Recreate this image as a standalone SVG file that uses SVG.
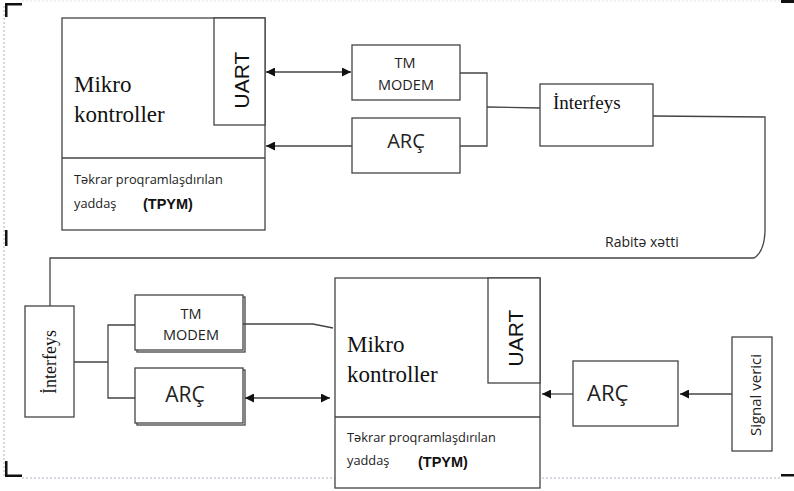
<svg xmlns="http://www.w3.org/2000/svg" width="794" height="491" viewBox="0 0 794 491">
<defs>
<marker id="ah" viewBox="0 0 10 10" refX="10" refY="5" markerWidth="9" markerHeight="9" markerUnits="userSpaceOnUse" orient="auto-start-reverse">
<path d="M0,0 L10,5 L0,10 z" fill="#111"/>
</marker>
<style>
.box{fill:#fff;stroke:#444;stroke-width:1.3}
.ln{fill:none;stroke:#444;stroke-width:1.3}
.serif{font-family:"Liberation Serif","Times New Roman",serif;fill:#111}
.sans{font-family:"Open Sans","Liberation Sans",sans-serif;fill:#222}
.arial{font-family:"Liberation Sans",Arial,sans-serif;fill:#111}
.frm{fill:#111}
.dot{stroke:#aab4c4;stroke-width:1;stroke-dasharray:2,2;fill:none}
</style>
</defs>
<rect width="794" height="491" fill="#fff"/>
<!-- frame -->
<g id="frame">
<line class="dot" x1="4" y1="6" x2="4" y2="478"/>
<line class="dot" x1="22" y1="478" x2="781" y2="478"/>
<line class="dot" x1="22" y1="1" x2="781" y2="1" style="stroke:#dde2ea"/>
<rect class="frm" x="5" y="3" width="17" height="2.5"/>
<rect class="frm" x="5" y="3" width="2.5" height="14"/>
<rect class="frm" x="781" y="0" width="13" height="3"/>
<rect class="frm" x="5" y="230" width="2.5" height="16"/>
<rect class="frm" x="5" y="461" width="2.5" height="16"/>
<rect class="frm" x="5" y="474.5" width="17" height="2.5"/>
<rect class="frm" x="394" y="473" width="6" height="2"/>
<rect class="frm" x="781" y="474" width="13" height="2.5"/>
</g>
<!-- top microcontroller -->
<g id="mc1">
<rect class="box" x="62" y="18" width="203" height="212"/>
<line class="ln" x1="62" y1="158" x2="265" y2="158"/>
<rect class="box" x="214" y="18" width="51" height="107"/>
<text class="arial" font-size="21" transform="translate(249,80) rotate(-90)" text-anchor="middle">UART</text>
<text class="serif" font-size="23" x="74" y="92">Mikro</text>
<text class="serif" font-size="23" x="74" y="122">kontroller</text>
<text class="sans" font-size="12.8" x="74" y="184">Təkrar proqramlaşdırılan</text>
<text class="sans" font-size="12.8" x="74" y="208">yaddaş</text>
<text class="arial" font-size="14.5" font-weight="bold" x="143" y="209">(TPYM)</text>
</g>
<g id="modem1">
<rect class="box" x="352" y="45" width="108" height="55"/>
<text class="sans" font-size="14.5" x="405" y="68" text-anchor="middle">TM</text>
<text class="sans" font-size="14.5" x="406" y="90" text-anchor="middle">MODEM</text>
</g>
<g id="arc1">
<rect class="box" x="352" y="118" width="108" height="55"/>
<text class="sans" font-size="20" x="406" y="148" text-anchor="middle">ARÇ</text>
</g>
<g id="interfeys1">
<rect class="box" x="540" y="84" width="113" height="62"/>
<text class="serif" font-size="19" x="553" y="109">İnterfeys</text>
</g>
<!-- bottom -->
<g id="interfeys2">
<rect class="box" x="25" y="306" width="49" height="111"/>
<text class="serif" font-size="18" transform="translate(56,362) rotate(-90)" text-anchor="middle">İnterfeys</text>
</g>
<g id="modem2">
<rect class="box" x="137" y="297" width="108" height="55"/>
<rect class="box" x="135" y="295" width="108" height="55"/>
<text class="sans" font-size="14.5" x="191" y="319" text-anchor="middle">TM</text>
<text class="sans" font-size="14.5" x="191" y="340" text-anchor="middle">MODEM</text>
</g>
<g id="arc2">
<rect class="box" x="137" y="370" width="108" height="55"/>
<rect class="box" x="135" y="368" width="108" height="55"/>
<text class="sans" font-size="21" x="185" y="402" text-anchor="middle">ARÇ</text>
</g>
<g id="mc2">
<rect class="box" x="335" y="278" width="205" height="210"/>
<line class="ln" x1="335" y1="417" x2="540" y2="417"/>
<rect class="box" x="488" y="278" width="52" height="105"/>
<text class="arial" font-size="21" transform="translate(523,338) rotate(-90)" text-anchor="middle">UART</text>
<text class="serif" font-size="23" x="347" y="352">Mikro</text>
<text class="serif" font-size="23" x="347" y="382">kontroller</text>
<text class="sans" font-size="12.8" x="347" y="442">Təkrar proqramlaşdırılan</text>
<text class="sans" font-size="12.8" x="347" y="465">yaddaş</text>
<text class="arial" font-size="14.5" font-weight="bold" x="418" y="467">(TPYM)</text>
</g>
<g id="arc3">
<rect class="box" x="573" y="361" width="105" height="65"/>
<text class="sans" font-size="22" x="587" y="401">ARÇ</text>
</g>
<g id="signal">
<rect class="box" x="732" y="337" width="40" height="114"/>
<text class="sans" font-size="15" transform="translate(761,395) rotate(-90)" text-anchor="middle">Signal verici</text>
</g>
<text class="sans" font-size="14" x="605" y="247">Rabitə xətti</text>
<!-- connectors -->
<g id="connectors">
<line class="ln" x1="266" y1="72" x2="351" y2="72" marker-start="url(#ah)" marker-end="url(#ah)"/>
<line class="ln" x1="352" y1="146" x2="266" y2="146" marker-end="url(#ah)"/>
<polyline class="ln" points="460,73 487,73 487,146 460,146"/>
<line class="ln" x1="487" y1="107" x2="540" y2="108"/>
<path class="ln" d="M653,116 L765,117 L765,232 Q764,252 754,258 L50,258 L50,306"/>
<line class="ln" x1="74" y1="362" x2="108" y2="362"/>
<polyline class="ln" points="135,325 108,325 108,398 135,398"/>
<line class="ln" x1="245" y1="398" x2="330" y2="398" marker-start="url(#ah)" marker-end="url(#ah)"/>
<polyline class="ln" points="243,324 313,324 333,328"/>
<line class="ln" x1="573" y1="394" x2="542" y2="394" marker-end="url(#ah)"/>
<line class="ln" x1="732" y1="394" x2="680" y2="394" marker-end="url(#ah)"/>
</g>
</svg>
